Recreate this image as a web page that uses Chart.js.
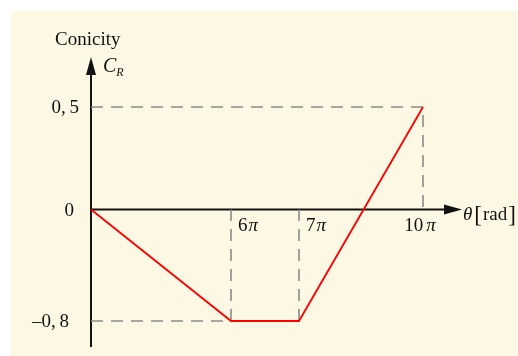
<!DOCTYPE html>
<html>
<head>
<meta charset="utf-8">
<script src="https://cdn.jsdelivr.net/npm/chart.js@4.4.1/dist/chart.umd.min.js"></script>
<style>
  html, body { margin: 0; padding: 0; background: #fff; }
  #wrap { width: 518px; height: 356px; }
</style>
</head>
<body>
<div id="wrap"><canvas id="conicity"></canvas></div>
<script>
// theta in units of pi, conicity C_R
var theta = [0, 6, 7, 10];
var conicity = [0, -0.8, -0.8, 0.5];
var thetaTicks = [6, 7, 10];
var thetaLabels = ['6', '7', '10'];
var crTicks = [0.5, 0, -0.8];
var crLabels = ['0,\u20095', '0', '\u20130,\u20098'];

// schematic axes: not to scale, so each axis is piecewise linear
var xBreaks = [[0, 0], [6, 0.4217], [7, 0.6265], [10, 1]];
var yBreaks = [[-0.8, 0], [0, 0.521], [0.5, 1]];
var breaks = { x: xBreaks, y: yBreaks };

var SERIF = '"Liberation Serif", "Times New Roman", serif';

class PiecewiseScale extends Chart.LinearScale {
  _toDecimal(v) {
    var k = breaks[this.id];
    for (var i = 1; i < k.length; i++) {
      if (v <= k[i][0] || i === k.length - 1) {
        var a = k[i - 1], b = k[i];
        return a[1] + (v - a[0]) / (b[0] - a[0]) * (b[1] - a[1]);
      }
    }
  }
  getPixelForValue(v) {
    return this.getPixelForDecimal(this._toDecimal(v));
  }
  getValueForPixel(p) {
    var d = this.getDecimalForPixel(p);
    var k = breaks[this.id];
    for (var i = 1; i < k.length; i++) {
      if (d <= k[i][1] || i === k.length - 1) {
        var a = k[i - 1], b = k[i];
        return a[0] + (d - a[1]) / (b[1] - a[1]) * (b[0] - a[0]);
      }
    }
  }
}
PiecewiseScale.id = 'piecewise';
PiecewiseScale.defaults = Chart.LinearScale.defaults;
Chart.register(PiecewiseScale);

function pts(xs, ys) {
  var out = [];
  for (var i = 0; i < xs.length; i++) out.push({ x: xs[i], y: ys[i] });
  return out;
}

// draw a run of text pieces with their own font styles, starting at x
function drawRuns(ctx, runs, x, y, align) {
  var w = 0;
  runs.forEach(function(r) { ctx.font = r.font; w += ctx.measureText(r.t).width + (r.dx || 0); });
  if (align === 'right') x -= w;
  else if (align === 'center') x -= w / 2;
  runs.forEach(function(r) {
    ctx.font = r.font;
    ctx.fillText(r.t, x, y + (r.dy || 0));
    x += ctx.measureText(r.t).width + (r.dx || 0);
  });
}

var axesPlugin = {
  id: 'axesPlugin',
  beforeDraw: function(chart) {
    var ctx = chart.ctx;
    ctx.save();
    ctx.fillStyle = '#ffffff';
    ctx.fillRect(0, 0, chart.width, chart.height);
    ctx.fillStyle = '#fdf8e4';
    ctx.fillRect(11, 11, chart.width - 11, chart.height - 11);
    ctx.restore();
  },
  beforeDatasetsDraw: function(chart) {
    var ctx = chart.ctx;
    var xs = chart.scales.x, ys = chart.scales.y;
    var ox = xs.getPixelForValue(0), oy = ys.getPixelForValue(0);
    ctx.save();
    ctx.strokeStyle = '#111';
    ctx.fillStyle = '#111';
    ctx.lineWidth = 2;
    // vertical axis with arrow
    ctx.beginPath();
    ctx.moveTo(ox, 347);
    ctx.lineTo(ox, 72);
    ctx.stroke();
    ctx.beginPath();
    ctx.moveTo(ox, 57);
    ctx.lineTo(ox - 5, 75);
    ctx.lineTo(ox + 5, 75);
    ctx.closePath();
    ctx.fill();
    // horizontal axis with arrow
    ctx.beginPath();
    ctx.moveTo(ox, oy);
    ctx.lineTo(446, oy);
    ctx.stroke();
    ctx.beginPath();
    ctx.moveTo(462, oy);
    ctx.lineTo(444, oy - 5);
    ctx.lineTo(444, oy + 5);
    ctx.closePath();
    ctx.fill();

    ctx.textBaseline = 'alphabetic';
    var up = '19px ' + SERIF, it = 'italic 19px ' + SERIF, br = '23px ' + SERIF;
    // y tick labels
    var yOff = [12, 17, 22];
    crTicks.forEach(function(v, i) {
      drawRuns(ctx, [{ t: crLabels[i], font: up }], ox - yOff[i], ys.getPixelForValue(v) + 6, 'right');
    });
    // x tick labels
    thetaTicks.forEach(function(v, i) {
      var px = xs.getPixelForValue(v);
      var last = i === thetaTicks.length - 1;
      var runs = [{ t: thetaLabels[i], font: up, dx: last ? 3 : 1 }, { t: '\u03c0', font: it }];
      drawRuns(ctx, runs, last ? px - 3 : px + 7, oy + 21, last ? 'center' : 'left');
    });
    // axis titles
    drawRuns(ctx, [{ t: 'Conicity', font: up }], 55, 45, 'left');
    drawRuns(ctx, [{ t: 'C', font: 'italic 20px ' + SERIF }, { t: 'R', font: 'italic 12px ' + SERIF, dy: 4 }], 103, 72, 'left');
    drawRuns(ctx, [
      { t: '\u03b8', font: it, dx: 2 },
      { t: '[', font: br, dy: 2, dx: 1 },
      { t: 'rad', font: up, dx: 1 },
      { t: ']', font: br, dy: 2 }
    ], 463, oy + 10, 'left');
    ctx.restore();
  }
};

new Chart(document.getElementById('conicity'), {
  type: 'line',
  data: {
    datasets: [
      {
        data: pts(theta, conicity),
        borderColor: '#ff0000',
        borderWidth: 1.8,
        pointRadius: 0,
        clip: false
      },
      {
        data: pts([0, 10, 10], [0.5, 0.5, 0]),
        borderColor: '#8a8a8a',
        borderWidth: 1.6,
        borderDash: [12, 8],
        pointRadius: 0,
        clip: false
      },
      {
        data: pts([0, 6, 6], [-0.8, -0.8, 0]),
        borderColor: '#8a8a8a',
        borderWidth: 1.6,
        borderDash: [12, 8],
        pointRadius: 0,
        clip: false
      },
      {
        data: pts([7, 7], [-0.8, 0]),
        borderColor: '#8a8a8a',
        borderWidth: 1.6,
        borderDash: [12, 8],
        pointRadius: 0,
        clip: false
      }
    ]
  },
  options: {
    responsive: true,
    maintainAspectRatio: false,
    animation: false,
    layout: { padding: { left: 91, right: 95, top: 107, bottom: 35 } },
    plugins: { legend: { display: false }, tooltip: { enabled: false } },
    scales: {
      x: { type: 'piecewise', min: 0, max: 10, display: false },
      y: { type: 'piecewise', min: -0.8, max: 0.5, display: false }
    }
  },
  plugins: [axesPlugin]
});
</script>
</body>
</html>
